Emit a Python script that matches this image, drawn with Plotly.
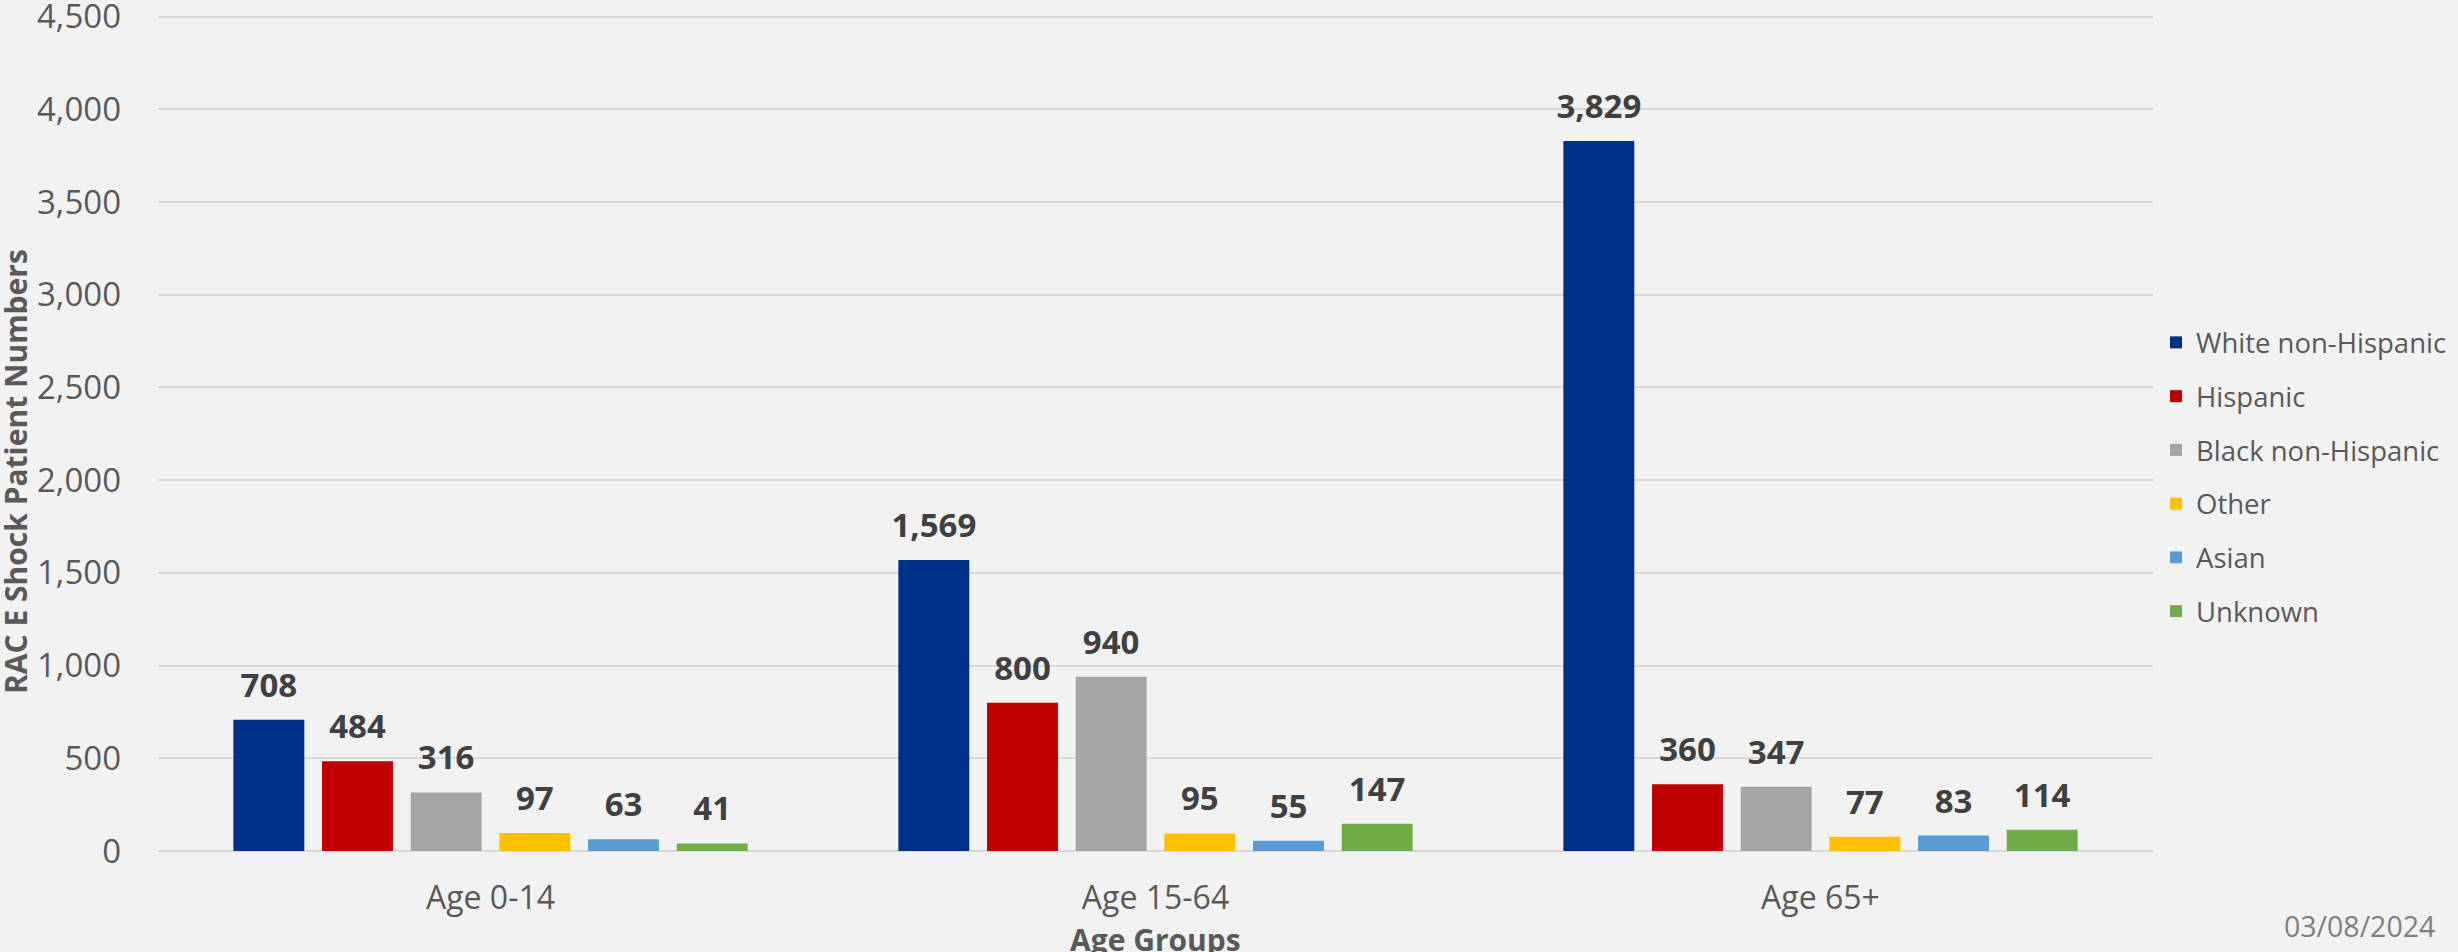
import plotly.graph_objects as go

categories = ["Age 0-14", "Age 15-64", "Age 65+"]
series_names = ["White non-Hispanic", "Hispanic", "Black non-Hispanic", "Other", "Asian", "Unknown"]
white_non_hispanic = [708, 1569, 3829]
hispanic = [484, 800, 360]
black_non_hispanic = [316, 940, 347]
other = [97, 95, 77]
asian = [63, 55, 83]
unknown = [41, 147, 114]
series_values = [white_non_hispanic, hispanic, black_non_hispanic, other, asian, unknown]
colors = ["#003087", "#C00000", "#A5A5A5", "#FFC000", "#5B9BD5", "#70AD47"]
y_ticks = [0, 500, 1000, 1500, 2000, 2500, 3000, 3500, 4000, 4500]

FONT = "Open Sans"
W, H = 2458, 952
L, R, T, B = 158, 305, 0, 101
pw, ph = W - L - R, H - T - B

fig = go.Figure()
for i, (name, vals, col) in enumerate(zip(series_names, series_values, colors)):
    fig.add_trace(go.Bar(
        x=categories, y=vals, name=name, marker=dict(color=col, line=dict(width=0)),
        offsetgroup=f"g{i}", legendgroup=f"g{i}",
    ))
for i, (name, vals) in enumerate(zip(series_names, series_values)):
    fig.add_trace(go.Scatter(
        x=categories, y=vals, mode="markers+text", showlegend=False, hoverinfo="skip",
        offsetgroup=f"g{i}", legendgroup=f"g{i}",
        marker=dict(size=22, opacity=0),
        text=[f"{v:,}" for v in vals], textposition="top center", cliponaxis=False,
        textfont=dict(family=FONT, size=33, color="#404040", weight="bold"),
    ))

def px_x(p):  # screen pixel -> paper
    return (p - L) / pw

def px_y(p):
    return (H - B - p) / ph

fig.update_layout(
    width=W, height=H,
    margin=dict(l=L, r=R, t=T, b=B, autoexpand=False),
    paper_bgcolor="#F2F2F2", plot_bgcolor="#F2F2F2",
    barmode="group", bargap=0.2, bargroupgap=0.2,
    scattermode="group", scattergap=0.2,
    font=dict(family=FONT, color="#595959"),
    showlegend=True,
    legend=dict(x=px_x(2156), xanchor="left", y=px_y(318), yanchor="top",
                font=dict(family=FONT, size=27.5, color="#595959"),
                tracegroupgap=15, bgcolor="rgba(0,0,0,0)"),
    xaxis=dict(showgrid=False, ticks="", tickfont=dict(family=FONT, size=32, color="#595959"),
               ticklabelstandoff=25, showline=False, zeroline=False, automargin=False),
    yaxis=dict(range=[0, 4590], tickvals=y_ticks, tickformat=",", showgrid=True,
               gridcolor="#D9D9D9", gridwidth=2, zeroline=True, zerolinecolor="#D9D9D9",
               zerolinewidth=2, ticks="", ticklabelstandoff=36, automargin=False,
               ticklabeloverflow="allow",
               tickfont=dict(family=FONT, size=33, color="#595959")),
    annotations=[
        dict(text="<b>RAC E Shock Patient Numbers</b>", textangle=-90, xref="paper", yref="paper",
             x=px_x(16), y=px_y(472), xanchor="center", yanchor="middle", showarrow=False,
             font=dict(family=FONT, size=30, color="#595959")),
        dict(text="<b>Age Groups</b>", xref="paper", yref="paper",
             x=0.5, y=px_y(939), xanchor="center", yanchor="middle", showarrow=False,
             font=dict(family=FONT, size=30, color="#595959")),
        dict(text="03/08/2024", xref="paper", yref="paper",
             x=px_x(2437), y=px_y(926), xanchor="right", yanchor="middle", showarrow=False,
             font=dict(family=FONT, size=28.5, color="#7F7F7F")),
    ],
)

fig.write_html("out.html", config={"displayModeBar": False},
               post_script="document.body.style.margin='0';")
